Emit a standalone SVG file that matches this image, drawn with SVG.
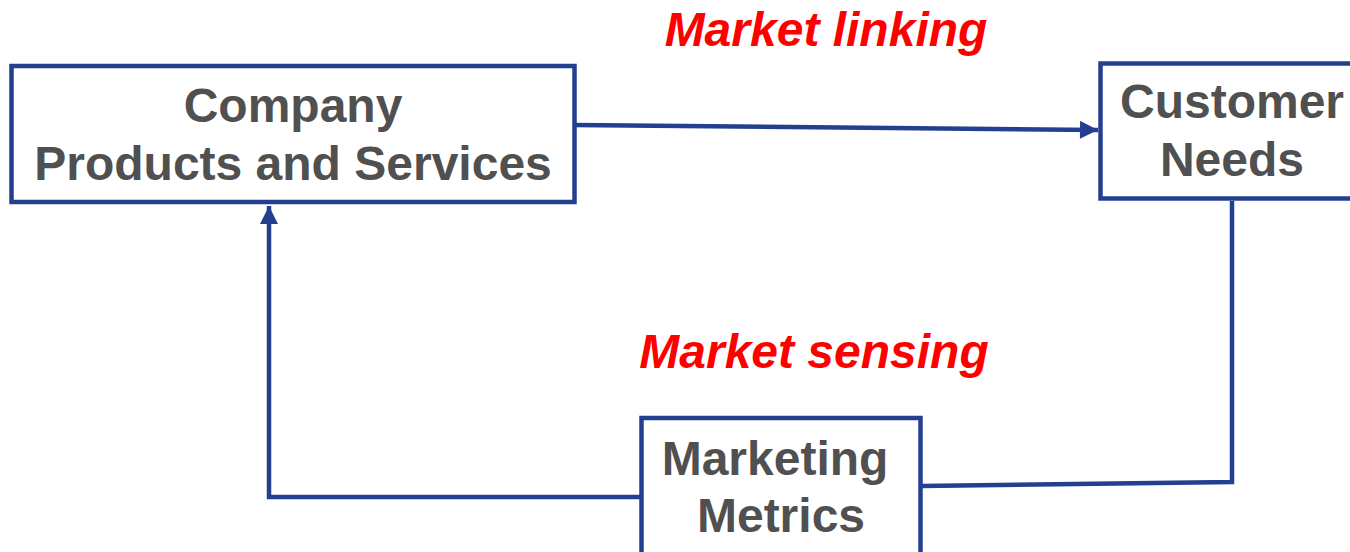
<svg xmlns="http://www.w3.org/2000/svg" width="1350" height="552" viewBox="0 0 1350 552">
<style>
.box{fill:#fff;stroke:#233f90;stroke-width:4.5}
.lbl{font-family:"Liberation Sans",Arial,sans-serif;font-weight:bold;font-size:48px;fill:#505050;text-anchor:middle}
.red{font-family:"Liberation Sans",Arial,sans-serif;font-weight:bold;font-style:italic;font-size:48px;fill:#ff0000;text-anchor:middle}
.con{fill:none;stroke:#233f90;stroke-width:4.5}
</style>
<defs>
<marker id="ah" viewBox="0 0 10 10" refX="10" refY="5" markerWidth="4.4" markerHeight="4" markerUnits="strokeWidth" orient="auto">
<path d="M0,0 L10,5 L0,10 z" fill="#233f90"/>
</marker>
</defs>
<g id="connectors">
<path class="con" d="M573,125 L1098,130" marker-end="url(#ah)"/>
<path class="con" d="M1232,201 L1232,482 L921,486"/>
<path class="con" d="M641,497 L269,497 L269,206" marker-end="url(#ah)"/>
</g>
<g id="company">
<rect class="box" x="11.5" y="66" width="563" height="136"/>
<text class="lbl" x="293" y="122">Company</text>
<text class="lbl" x="293" y="180">Products and Services</text>
</g>
<g id="customer">
<rect class="box" x="1100.5" y="63.5" width="264" height="135"/>
<text class="lbl" x="1232" y="118">Customer</text>
<text class="lbl" x="1232" y="176">Needs</text>
</g>
<g id="metrics">
<rect class="box" x="641.5" y="418" width="279" height="145"/>
<text class="lbl" x="775" y="475">Marketing</text>
<text class="lbl" x="781" y="532">Metrics</text>
</g>
<text class="red" x="826" y="46">Market linking</text>
<text class="red" x="814" y="368">Market sensing</text>
</svg>
